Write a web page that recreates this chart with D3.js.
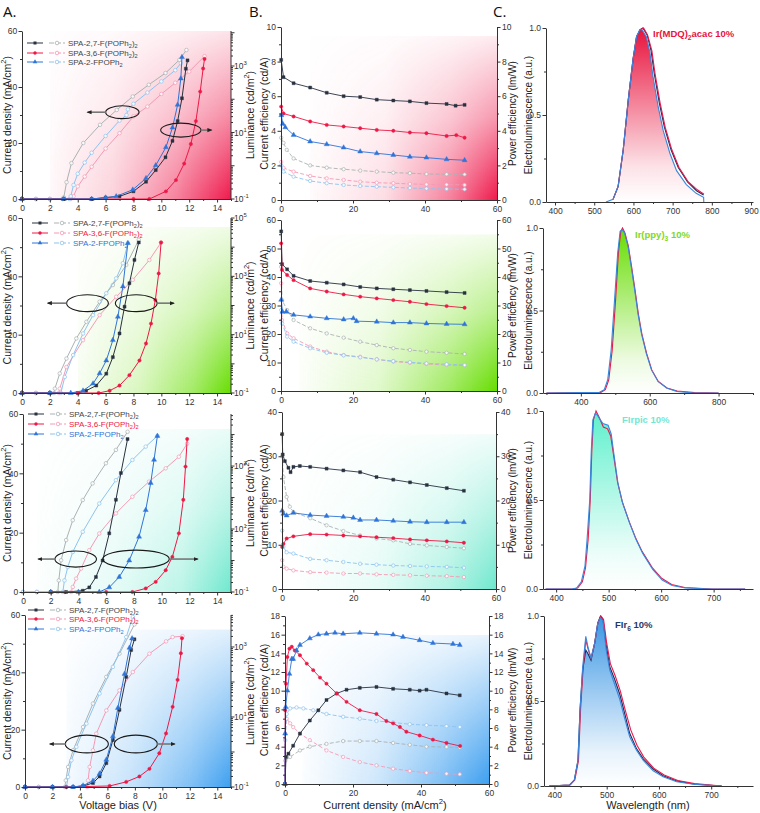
<!DOCTYPE html>
<html><head><meta charset="utf-8">
<script src="https://cdn.jsdelivr.net/npm/d3@7"></script>
<style>body{margin:0;background:#fff}svg{display:block}</style>
</head><body><svg id="c" width="760" height="813"></svg>
<script>
// ---------------- DATA ----------------
// Column A : J-V (left axis, mA/cm2) and L-V (right log axis, cd/m2)
const a1J27=[[0,0],[1,0],[2,0],[2.9,0],[3.0,0.6],[3.2,6],[3.55,12.8],[4.4,20],[5.6,26.5],[6.8,31.8],[7.95,36.6],[9.1,40.8],[10.3,45],[11.3,49.7],[11.8,53.2]];
const a1J36=[[0,0],[1,0],[2,0],[3.5,0],[3.7,1],[4,4.5],[4.5,8],[5,11.5],[6,18],[7,23.5],[8,29.5],[9,33],[10,37.5],[11,41.5],[12,45.5],[13.1,51]];
const a1J2F=[[0,0],[1,0],[2,0],[3.4,0],[3.5,1],[3.7,5],[4,9],[4.5,13],[5,16.5],[6,22.5],[7,28],[7.5,30],[7.6,32],[8,34],[9,38],[10,42],[11,46],[11.4,48.5]];
const a1L27=[[0,0.1],[3,0.1],[5,0.1],[6,0.11],[7,0.12],[8,0.17],[8.9,0.33],[9.6,0.74],[10.3,1.8],[10.8,5.6],[11.17,22],[11.48,107],[11.76,830],[11.88,1480]];
const a1L36=[[0,0.1],[5,0.1],[8,0.1],[9.14,0.1],[10.33,0.17],[11.05,0.37],[11.64,1.16],[12.12,4.5],[12.48,22],[12.79,170],[13.0,840],[13.1,1630]];
const a1L2F=[[0,0.1],[3,0.1],[5,0.1],[6,0.11],[6.76,0.12],[7.95,0.19],[8.9,0.42],[9.6,1.03],[10.33,3.6],[10.8,14],[11.17,68],[11.4,420],[11.48,1850]];

const a2J27=[[0,0],[1,0],[2,0],[2.3,0],[2.36,1.5],[2.71,6.7],[3.19,11.8],[3.9,18.7],[4.62,24.4],[5.57,31.3],[6.52,37],[7.48,43.9],[8.38,52.5]];
const a2J36=[[0,0],[1,0],[2,0],[2.65,0],[2.71,1.5],[3.19,8.9],[4.38,18.1],[5.57,26.7],[6.76,33],[7.95,38.8],[9.14,45.6],[9.98,51.6]];
const a2J2F=[[0,0],[1,0],[2,0],[2.79,0],[3.07,5.5],[3.67,13],[4.38,20.4],[5.1,26.7],[6.05,34.2],[6.76,39.3],[7.24,44.5],[7.6,51.4]];
const a2L27=[[0,0.1],[2,0.1],[4,0.1],[4.6,0.12],[5.33,0.18],[6.05,0.46],[6.52,1.7],[7.0,11],[7.36,91],[7.71,580],[8.07,3650],[8.38,14500]];
const a2L36=[[0,0.1],[2,0.1],[4,0.1],[5.5,0.1],[6.29,0.12],[7.0,0.18],[7.71,0.41],[8.43,1.3],[8.9,5],[9.26,24],[9.57,155],[9.81,1250],[9.98,14500]];
const a2L2F=[[0,0.1],[2,0.1],[3.5,0.1],[4.38,0.12],[5.1,0.21],[5.57,0.47],[6.05,1.3],[6.52,6.5],[6.88,41],[7.24,450],[7.6,13800]];

const a3J27=[[0,0],[1,0],[2,0],[2.51,0],[2.58,3.9],[2.75,10.7],[3.11,17.5],[3.59,24.2],[4.31,31],[5.02,36.6],[5.98,43.4],[6.7,47.9],[7.54,54]];
const a3J36=[[0,0],[1,0],[2,0],[3,0],[3.47,0],[3.59,1.7],[3.83,4.5],[4.19,7.9],[4.78,14.1],[5.5,19.7],[6.7,26.5],[7.89,32.1],[9.09,37.2],[10.29,41.7],[11.24,45.6],[11.84,50]];
const a3J2F=[[0,0],[1,0],[2,0],[2.87,0],[2.99,3.9],[3.23,8.4],[3.59,13.5],[4.31,20.3],[5.5,29.8],[6.7,37.7],[7.89,44.5],[8.85,49],[9.69,52.6]];
const a3L27=[[2,0.1],[3.11,0.1],[4.31,0.11],[4.78,0.14],[5.26,0.3],[5.74,1.0],[6.22,7.3],[6.7,85],[7.06,600],[7.54,7200]];
const a3L36=[[2,0.1],[6,0.1],[7.89,0.1],[8.85,0.13],[9.57,0.21],[10.29,0.49],[10.77,1.3],[11.24,7.3],[11.56,85],[11.72,960],[11.84,7200]];
const a3L2F=[[2,0.1],[4,0.1],[5.5,0.1],[6.22,0.14],[6.94,0.3],[7.66,1.0],[8.37,5.7],[8.85,40],[9.21,290],[9.45,1580],[9.69,9000]];

const a4J27=[[0,0],[1,0],[2,0],[2.9,0],[2.97,2.3],[3.14,7],[3.5,12.8],[4.23,20.9],[4.95,29.1],[5.92,38.4],[6.88,46.5],[7.97,56.7]];
const a4J36=[[0,0],[1,0],[2,0],[3,0],[4.52,0],[4.59,2.3],[4.71,7],[4.95,12.8],[5.19,18.6],[5.92,26.7],[6.88,33.7],[7.85,40.1],[9.06,46.5],[10.27,50.8],[10.75,52.3],[11.47,52.6]];
const a4J2F=[[0,0],[1,0],[2,0],[3.02,0],[3.14,3.5],[3.38,9.3],[3.74,14],[4.47,22.1],[5.43,32.6],[6.4,41.9],[7.37,52.3],[7.85,59.3]];
const a4L27=[[0,0.1],[2,0.1],[3.5,0.1],[4.23,0.107],[4.95,0.13],[5.43,0.2],[5.92,0.48],[6.4,2.2],[6.88,16],[7.37,140],[7.73,820],[7.97,1660]];
const a4L36=[[0,0.1],[3,0.1],[6.16,0.107],[7.37,0.14],[8.33,0.2],[9.06,0.33],[9.78,0.92],[10.27,3.4],[10.75,19.5],[11.11,115],[11.35,660],[11.43,1780]];
const a4L2F=[[0,0.1],[2,0.1],[3.5,0.1],[4.23,0.11],[4.95,0.15],[5.43,0.24],[5.92,0.6],[6.4,2.8],[6.76,18],[7.25,170],[7.61,950],[7.8,1750]];

// Column B : current efficiency (cd/A, left) and power efficiency (lm/W, right) vs current density
const b1CE27=[[0.05,8.1],[0.7,7.1],[3.5,6.75],[8.1,6.5],[12.7,6.2],[17.4,6.0],[22,5.95],[26.6,5.8],[31.2,5.75],[35.8,5.7],[40.4,5.6],[46,5.55],[48.5,5.45],[51,5.5]];
const b1CE36=[[0.05,5.4],[0.7,5.0],[3.5,4.83],[8.1,4.54],[12.7,4.34],[17.4,4.25],[22,4.15],[26.6,4.05],[31.2,4.0],[35.8,3.9],[40.4,3.86],[46,3.7],[48.7,3.75],[51,3.6]];
const b1CE2F=[[0.1,4.9],[0.5,4.4],[1.2,4.2],[3.5,3.76],[8.1,3.38],[12.7,3.22],[17.4,3.03],[22,2.8],[26.6,2.7],[31.2,2.6],[35.8,2.5],[40.4,2.45],[46,2.35],[51,2.3]];
const b1PE27=[[0.05,3.6],[0.7,3.3],[1.6,2.9],[3.5,2.4],[8.1,2.0],[12.7,1.87],[17.4,1.78],[22,1.7],[26.6,1.64],[31.2,1.58],[35.8,1.55],[40.4,1.5],[46,1.49],[51,1.48]];
const b1PE36=[[0.05,2.2],[0.7,1.85],[3.5,1.64],[8.1,1.39],[12.7,1.25],[17.4,1.16],[22,1.06],[26.6,1.0],[31.2,0.97],[35.8,0.93],[40.4,0.9],[46,0.89],[51,0.87]];
const b1PE2F=[[0.05,2.0],[0.7,1.64],[3.5,1.35],[8.1,1.1],[12.7,0.97],[17.4,0.87],[22,0.81],[26.6,0.77],[31.2,0.73],[35.8,0.69],[40.4,0.66],[46,0.64],[51,0.62]];

const b2CE27=[[0.05,56],[0.3,44.5],[1.7,42.7],[3.5,40.4],[8.1,38.6],[12.7,38],[17.4,37.4],[22,36.5],[26.6,36],[31.2,35.7],[35.8,35.4],[40.4,35.1],[46,34.7],[51,34.4]];
const b2CE36=[[0.05,51.8],[0.3,42.5],[1.7,40.7],[3.5,38.9],[8.1,36.0],[12.7,34.9],[17.4,33.9],[22,33.1],[26.6,32.5],[31.2,31.9],[35.8,31.3],[40.4,30.5],[46,29.8],[51,29.2]];
const b2CE2F=[[0.05,32],[0.4,27.8],[1.5,27.8],[3.5,26.7],[8.1,26.1],[12.7,25.5],[17.4,25.1],[20.1,25.5],[21,24.5],[26.6,24.3],[31.2,24.0],[35.8,24.0],[40.4,23.7],[46,23.5],[51,23.4]];
const b2PE27=[[0.05,43.6],[0.3,31.9],[1.7,28.4],[3.5,24.9],[8.1,22],[12.7,20.2],[17.4,18.7],[22,17.3],[26.6,16.1],[31.2,15.0],[35.8,14.4],[40.4,13.8],[46,13.4],[51,13.0]];
const b2PE36=[[0.05,37.8],[0.3,24.9],[1.7,20.2],[3.5,18.5],[8.1,15.6],[12.7,13.8],[17.4,12.6],[22,12.0],[26.6,11.1],[31.2,10.3],[35.8,9.9],[40.4,9.5],[46,9.1],[51,9.0]];
const b2PE2F=[[0.05,28.4],[0.3,23.7],[1.7,19.1],[3.5,17.3],[8.1,15.0],[12.7,13.4],[17.4,12.5],[22,11.8],[26.6,11.1],[31.2,10.5],[35.8,10.1],[40.4,9.7],[46,9.4],[51,9.1]];

const b3CE27=[[0.05,35],[0.2,30.4],[0.8,28.9],[1.8,27.4],[2.4,26.4],[3.2,27.6],[5,27.8],[7.9,27.6],[12.5,27.2],[17.2,26.8],[21.9,26.4],[26.5,25.3],[31.2,24.7],[35.9,24.1],[40.6,23.5],[46.2,22.8],[51,22.2]];
const b3CE36=[[0.05,9.5],[0.4,10.2],[1.3,11.4],[3.2,11.9],[7.9,12.4],[12.5,12.3],[17.2,12.1],[21.9,11.9],[26.5,11.7],[31.2,11.5],[35.9,11.2],[40.6,11.0],[46.2,10.75],[51,10.45]];
const b3CE2F=[[0.05,17.7],[0.4,17],[1.3,16.6],[3.2,17.2],[7.9,16.7],[12.5,16.5],[17.2,16.3],[20,16.1],[21.9,15.6],[26.5,15.6],[31.2,15.4],[35.9,15.2],[40.6,15.1],[46.2,15.1],[51,15.1]];
const b3PE27=[[0.05,30],[0.4,25.3],[1.3,20.8],[2.2,18.6],[3.2,17.4],[7.9,16],[12.5,14.4],[17.2,13.1],[21.9,12.1],[26.5,11.4],[31.2,11.0],[35.9,10.2],[40.6,9.85],[46.2,9.5],[51,9.2]];
const b3PE36=[[0.05,6.5],[0.4,5.0],[1.3,4.6],[3.2,4.2],[7.9,3.8],[12.5,3.7],[17.2,3.5],[21.9,3.5],[26.5,3.3],[31.2,3.2],[35.9,3.1],[40.6,3.0],[46.2,2.9],[51,2.7]];
const b3PE2F=[[0.05,13.2],[0.4,9.5],[1.3,8.3],[3.2,8.0],[7.9,6.8],[12.5,6.5],[17.2,6.1],[21.9,5.7],[26.5,5.5],[31.2,5.3],[35.9,5.2],[40.6,5.1],[46.2,5.0],[51,4.8]];

const b4CE27=[[0,0],[0.3,2.9],[1,3.25],[2.4,4.1],[4.4,5.4],[7.3,6.8],[9.8,7.9],[12.2,9.0],[15.2,9.7],[18.1,10.1],[22,10.3],[26.9,10.4],[31.8,10.2],[36.7,10.1],[39.6,10.0],[41.6,10.1],[47.5,9.7],[51.4,9.5]];
const b4CE36=[[0,0],[0.05,7.9],[0.3,10.75],[0.7,13.6],[1.3,14.5],[2,14.7],[2.9,14.3],[4.4,13.8],[6.4,12.9],[8.3,12.2],[10.3,11.4],[12.2,10.75],[15.2,9.7],[18.1,8.8],[22,7.9],[26.9,7.5],[29.8,6.75],[31.8,6.5],[33.8,6.1],[35.7,5.6],[39.6,5.2],[43.5,4.75],[47.5,4.4],[51.5,4.07]];
const b4CE2F=[[0,0],[0.05,5.4],[0.2,8.25],[0.7,10.0],[1.3,11.8],[2,13.4],[2.4,13.4],[3.4,14.3],[4.4,14.9],[7.3,15.6],[9.8,16.0],[12.2,16.1],[14.7,16.2],[17.1,16.1],[22,16.2],[26.9,16.1],[31.8,16.0],[34.7,15.75],[39.6,15.4],[43.5,15.1],[49.4,15.0],[51.4,14.9]];
const b4PE27=[[0,0],[0.1,2.5],[1.5,2.9],[4.4,3.6],[7.3,4.0],[12.2,4.3],[17.1,4.6],[22,4.6],[26.9,4.6],[31.8,4.4],[36.7,4.2],[41.6,4.0],[47.5,3.96],[51.4,3.9]];
const b4PE36=[[0,0],[0.05,5.4],[0.5,7.0],[1.5,6.5],[2.4,6.1],[4.4,5.4],[7.3,4.7],[12.2,3.6],[17.1,2.9],[22,2.35],[26.9,2.0],[31.8,1.64],[36.7,1.4],[41.6,1.2],[47.5,1.1],[51.4,1.04]];
const b4PE2F=[[0,0],[0.05,4.7],[0.5,7.5],[1.5,8.1],[3.4,8.2],[5.4,8.1],[8.3,7.9],[12.2,7.5],[17.1,7.2],[22,7.0],[26.9,6.75],[31.8,6.6],[36.7,6.4],[41.6,6.3],[47.5,6.2],[51.4,6.1]];

// Column C : normalised EL spectra [wavelength nm, intensity]
const c1Blue=[[530,0],[548,0.015],[561,0.09],[574,0.30],[587,0.59],[599,0.82],[608,0.95],[616,0.99],[622,0.99],[633,0.95],[642,0.86],[650,0.72],[663,0.55],[676,0.41],[693,0.28],[710,0.18],[735,0.10],[760,0.05],[779,0.027],[779.5,0]];
const c1Dark=[[548,0.015],[561,0.09],[574,0.30],[587,0.59],[599,0.82],[608,0.95],[617,0.99],[624,1.0],[635,0.96],[645,0.87],[653,0.74],[666,0.57],[679,0.43],[696,0.30],[714,0.2],[738,0.115],[761,0.065],[779,0.04]];
const c1Red=[[548,0.015],[561,0.09],[574,0.30],[587,0.59],[599,0.82],[608,0.95],[618,0.99],[626,1.0],[636,0.96],[647,0.87],[655,0.74],[668,0.57],[681,0.43],[698,0.30],[716,0.2],[740,0.115],[763,0.07],[780,0.045]];

const c2Blue=[[300,0],[454,0.004],[468,0.02],[478,0.08],[488,0.26],[498,0.57],[507,0.85],[514,0.98],[520,0.99],[527,0.97],[537,0.89],[546,0.77],[556,0.63],[566,0.48],[576,0.36],[590,0.24],[605,0.14],[624,0.07],[649,0.03],[678,0.01],[727,0],[800,0]];
const c2Red=[[300,0],[458,0.004],[471,0.02],[481,0.08],[491,0.26],[501,0.57],[509,0.85],[516,0.98],[521,1.0],[528,0.97],[538,0.89],[547,0.77],[557,0.63],[567,0.48],[577,0.36],[591,0.24],[606,0.14],[625,0.07],[650,0.03],[680,0.012],[730,0.002],[800,0]];

const c3Blue=[[380,0],[430,0],[439,0.005],[448,0.04],[455,0.13],[459,0.28],[464,0.5],[467,0.78],[470,0.95],[475,0.99],[480,0.97],[489,0.93],[499,0.92],[505,0.87],[510,0.76],[518,0.59],[527,0.48],[540,0.37],[552,0.28],[565,0.2],[584,0.11],[602,0.05],[621,0.02],[646,0.006],[697,0],[760,0]];
const c3Red=[[380,0],[432,0],[441,0.005],[450,0.04],[456,0.12],[461,0.28],[465,0.5],[468,0.78],[471,0.95],[476,1.0],[481,0.97],[490,0.91],[498,0.9],[504,0.86],[509,0.76],[517,0.6],[526,0.49],[539,0.38],[551,0.29],[564,0.21],[583,0.12],[601,0.06],[620,0.025],[645,0.008],[697,0],[760,0]];

const c4Blue=[[390,0],[429,0.006],[438,0.035],[445,0.15],[449,0.45],[454,0.7],[460,0.88],[464,0.82],[470,0.75],[477,0.84],[483,0.96],[488,0.99],[493,0.97],[499,0.8],[506,0.68],[515,0.6],[525,0.51],[535,0.39],[544,0.29],[557,0.21],[570,0.15],[589,0.09],[608,0.055],[634,0.025],[666,0.01],[704,0.002],[720,0]];
const c4Dark=[[390,0],[429,0.006],[438,0.035],[445,0.15],[449,0.45],[454,0.68],[460,0.8],[464,0.78],[470,0.74],[477,0.84],[483,0.96],[488,1.0],[493,0.98],[499,0.83],[506,0.7],[515,0.63],[525,0.54],[535,0.42],[544,0.31],[557,0.22],[570,0.16],[589,0.1],[608,0.06],[634,0.03],[666,0.012],[704,0.003],[720,0]];
const c4Red=[[390,0],[430,0.006],[439,0.035],[446,0.15],[450,0.45],[455,0.7],[460,0.86],[464,0.81],[470,0.75],[477,0.84],[483,0.96],[489,1.0],[494,0.98],[500,0.84],[507,0.72],[516,0.65],[526,0.56],[536,0.44],[546,0.33],[558,0.24],[571,0.17],[590,0.105],[610,0.065],[636,0.032],[668,0.014],[704,0.004],[720,0]];

// Text
const seriesNames=[[["SPA-2,7-F(POPh",0],["2",1],[")",0],["2",1]],[["SPA-3,6-F(POPh",0],["2",1],[")",0],["2",1]],[["SPA-2-FPOPh",0],["2",1]]];
const emitterNames=[[["Ir(MDQ)",0],["2",1],["acac 10%",0]],[["Ir(ppy)",0],["3",1],[" 10%",0]],[["FIrpic 10%",0]],[["FIr",0],["6",1],[" 10%",0]]];
const panelLetters=["A.","B.","C."];

// ---------------- DRAWING ----------------
const FONT="'Liberation Sans', Arial, Helvetica, sans-serif";
const COL={dark:"#28313f",gray:"#aab2b2",red:"#ee1846",pink:"#f49ab4",blue:"#2f74d8",lblue:"#8ec3ee"};
const svg=d3.select("#c");
const defs=svg.append("defs");
let gid=0;

function rich(t,parts,fs){let sh=0;parts.forEach(([s,k])=>{const tg=k===1?fs*0.3:k===2?-fs*0.45:0;t.append("tspan").attr("dy",tg-sh).attr("font-size",k?fs*0.7:fs).text(s);sh=tg;});}

function bgRect(g,color,x0,x1,y0,y1,hStops,vStops){
  const id="g"+(gid++);
  const h=defs.append("linearGradient").attr("id",id+"h").attr("x1",0).attr("y1",0).attr("x2",1).attr("y2",0);
  hStops.forEach(([o,a])=>h.append("stop").attr("offset",o).attr("stop-color",color).attr("stop-opacity",a));
  const v=defs.append("linearGradient").attr("id",id+"v").attr("x1",0).attr("y1",0).attr("x2",0).attr("y2",1);
  vStops.forEach(([o,a])=>v.append("stop").attr("offset",o).attr("stop-color","#fff").attr("stop-opacity",a));
  const m=defs.append("mask").attr("id",id+"m").attr("maskUnits","userSpaceOnUse").attr("x",x0).attr("y",y0).attr("width",x1-x0).attr("height",y1-y0);
  m.append("rect").attr("x",x0).attr("y",y0).attr("width",x1-x0).attr("height",y1-y0).attr("fill",`url(#${id}v)`);
  g.append("rect").attr("x",x0).attr("y",y0).attr("width",x1-x0).attr("height",y1-y0).attr("fill",`url(#${id}h)`).attr("mask",`url(#${id}m)`);
}

function series(g,data,xs,ys,o){
  const line=d3.line().x(d=>xs(d[0])).y(d=>ys(d[1]));
  g.append("path").attr("d",line(data)).attr("fill","none").attr("stroke",o.color).attr("stroke-width",o.sw||1).attr("stroke-dasharray",o.dash||null);
  if(o.sym){
    g.selectAll(null).data(data).enter().append("path")
      .attr("d",d3.symbol().type(o.sym).size(o.size||9))
      .attr("transform",d=>`translate(${xs(d[0])},${ys(d[1])})`)
      .attr("fill",o.open?"#fff":o.color).attr("fill-opacity",o.open?0.85:1)
      .attr("stroke",o.color).attr("stroke-width",o.open?0.7:0.4);
  }
}

function linAxis(g,scale,orient,pos,major,minor,fmt,fs,pad){
  const dom=scale.domain();
  const lo=Math.min(dom[0],dom[1]),hi=Math.max(dom[0],dom[1]);
  const majV=d3.range(Math.ceil(lo/major-1e-9)*major,hi+1e-9,major);
  const mk=orient==="bottom"?d3.axisBottom:orient==="left"?d3.axisLeft:d3.axisRight;
  const ax=mk(scale).tickValues(majV).tickSize(3.5).tickSizeOuter(0).tickPadding(pad==null?2:pad).tickFormat(fmt);
  const tr=orient==="bottom"?`translate(0,${pos})`:`translate(${pos},0)`;
  const gg=g.append("g").attr("transform",tr).call(ax);
  gg.select(".domain").attr("stroke","#333");
  gg.selectAll(".tick line").attr("stroke","#333");
  gg.selectAll(".tick text").attr("fill","#333").attr("font-size",fs||9).attr("font-family",FONT);
  if(minor){
    const minV=d3.range(Math.ceil(lo/minor-1e-9)*minor,hi+1e-9,minor).filter(v=>Math.abs(v/major-Math.round(v/major))>1e-6);
    const ax2=mk(scale).tickValues(minV).tickSize(2).tickSizeOuter(0).tickFormat("");
    const g2=g.append("g").attr("transform",tr).call(ax2);
    g2.select(".domain").remove();g2.selectAll(".tick line").attr("stroke","#333");
  }
  return gg;
}

// rotated axis title; bx = x of the text baseline
function rotTitle(g,bx,y,parts,fs){
  const t=g.append("text").attr("transform",`translate(${bx},${y}) rotate(-90)`).attr("text-anchor","middle").attr("font-family",FONT).attr("font-size",fs).attr("fill","#222");
  rich(t,parts,fs);
}

function ellipseAnn(g,xs,ys,cx,cy,rx,ry,a0,a1){
  g.append("ellipse").attr("cx",xs(cx)).attr("cy",ys(cy)).attr("rx",Math.abs(xs(cx+rx)-xs(cx))).attr("ry",Math.abs(ys(cy+ry)-ys(cy))).attr("fill","none").attr("stroke","#1a1a1a").attr("stroke-width",1.1);
  g.append("line").attr("x1",xs(a0)).attr("y1",ys(cy)).attr("x2",xs(a1)).attr("y2",ys(cy)).attr("stroke","#777").attr("stroke-width",1.6).attr("marker-end","url(#arr)");
}
defs.append("marker").attr("id","arr").attr("viewBox","0 0 10 10").attr("refX",8).attr("refY",5).attr("markerWidth",3.2).attr("markerHeight",3.2).attr("orient","auto")
  .append("path").attr("d","M0,1L10,5L0,9Z").attr("fill","#222");

const SQ=d3.symbolSquare,CI=d3.symbolCircle,TR=d3.symbolTriangle;

// ---- Column A
const rowsA=[
 {x0:22,x1:231,yT:31,yB:199,lmax:11300,col:"#ee1a4c",bg:[2,15,0,60],J:[a1J27,a1J36,a1J2F],L:[a1L27,a1L36,a1L2F],leg:{x:27,y:[43,53,62],tc:["#444","#444","#444"]},
  ell:[[7.2,31,1.2,2.3,6.05,4.7],[11.4,24.6,1.45,2.5,12.85,13.6]],h:[[0,0.03],[0.35,0.2],[0.7,0.55],[1,1]],v:[[0,0.12],[0.5,0.5],[1,1]]},
 {x0:22,x1:231,yT:218,yB:393,lmax:1e5,col:"#66dd00",bg:[4,15,0,57],J:[a2J27,a2J36,a2J2F],L:[a2L27,a2L36,a2L2F],leg:{x:32,y:[223,233,243],tc:["#444",COL.red,COL.blue]},
  ell:[[4.7,30.8,1.5,2.9,3.2,1.85],[8.2,30.8,1.5,2.9,9.7,10.9]],h:[[0,0.05],[0.4,0.25],[0.75,0.6],[1,1]],v:[[0,0.1],[0.5,0.45],[1,1]]},
 {x0:23,x1:231,yT:414,yB:592,lmax:45000,col:"#55e4c4",bg:[1,15,0,55],J:[a3J27,a3J36,a3J2F],L:[a3L27,a3L36,a3L2F],leg:{x:28,y:[414,424,434],tc:["#444",COL.red,COL.blue]},
  ell:[[3.8,11.1,1.5,2.7,2.3,1.1],[8.15,11.1,2.4,3.0,10.6,12.6]],h:[[0,0.02],[0.4,0.15],[0.75,0.4],[1,0.85]],v:[[0,0.15],[0.5,0.5],[1,1]]},
 {x0:25,x1:231,yT:615,yB:787,lmax:8200,col:"#3d9ff0",bg:[3,15,0,55],J:[a4J27,a4J36,a4J2F],L:[a4L27,a4L36,a4L2F],leg:{x:28,y:[610,619,629],tc:["#444",COL.red,COL.blue]},
  ell:[[4.5,15,1.57,3.1,3.0,1.8],[8.07,15,1.57,3.1,9.6,10.9]],h:[[0,0.05],[0.4,0.3],[0.75,0.65],[1,1]],v:[[0,0.15],[0.5,0.55],[1,1]]}
];
rowsA.forEach((r,i)=>{
  const g=svg.append("g");
  const xs=d3.scaleLinear().domain([0,15]).range([r.x0,r.x1]);
  const ys=d3.scaleLinear().domain([0,60]).range([r.yB,r.yT]);
  const yl=d3.scaleLog().domain([0.1,r.lmax]).range([r.yB,r.yT]).clamp(true);
  bgRect(g,r.col,xs(r.bg[0]),xs(r.bg[1]),ys(r.bg[3]),ys(r.bg[2]),r.h,r.v);
  const jc=[COL.gray,COL.pink,COL.lblue],lc=[COL.dark,COL.red,COL.blue],ls=[SQ,CI,TR];
  r.J.forEach((d,k)=>series(g,d,xs,ys,{color:jc[k],sym:CI,open:true,size:10,sw:1}));
  r.L.forEach((d,k)=>series(g,d,xs,yl,{color:lc[k],sym:ls[k],size:k===2?11:9,sw:1}));
  r.ell.forEach(e=>ellipseAnn(g,xs,ys,...e));
  linAxis(g,xs,"bottom",r.yB,2,1,d=>d,8.5);
  linAxis(g,ys,"left",r.x0,20,10,d=>d,8.5,1.2);
  // log right axis
  g.append("line").attr("x1",r.x1).attr("x2",r.x1).attr("y1",r.yB).attr("y2",r.yT).attr("stroke","#333");
  yl.ticks().forEach(v=>{
    const e=Math.log10(v),isMaj=Math.abs(e-Math.round(e))<1e-9;
    g.append("line").attr("x1",r.x1).attr("x2",r.x1+(isMaj?3.5:2)).attr("y1",yl(v)).attr("y2",yl(v)).attr("stroke","#333");
    if(isMaj&&Math.round(e)%2!==0){
      const t=g.append("text").attr("x",r.x1+3).attr("y",yl(v)+3).attr("font-family",FONT).attr("font-size",8.5).attr("fill","#333");
      rich(t,[["10",0],[String(Math.round(e)),2]],8.5);
    }
  });
  rotTitle(g,10.5,(r.yT+r.yB)/2,[["Current density (mA/cm",0],["2",2],[")",0]],10.5);
  rotTitle(g,254,(r.yT+r.yB)/2,[["Luminance (cd/m",0],["2",2],[")",0]],10.5);
  r.leg.y.forEach((ly,k)=>{
    const lx=r.leg.x;
    g.append("line").attr("x1",lx).attr("x2",lx+16).attr("y1",ly).attr("y2",ly).attr("stroke",lc[k]).attr("stroke-width",1);
    g.append("path").attr("d",d3.symbol().type(ls[k]).size(9)).attr("transform",`translate(${lx+8},${ly})`).attr("fill",lc[k]);
    g.append("line").attr("x1",lx+22).attr("x2",lx+38).attr("y1",ly).attr("y2",ly).attr("stroke",jc[k]).attr("stroke-width",1).attr("stroke-dasharray","5,2");
    g.append("circle").attr("cx",lx+30).attr("cy",ly).attr("r",1.8).attr("fill","#fff").attr("stroke",jc[k]).attr("stroke-width",0.8);
    const t=g.append("text").attr("x",lx+41).attr("y",ly+3).attr("font-family",FONT).attr("font-size",8).attr("fill",r.leg.tc[k]);
    rich(t,seriesNames[k],8);
  });
});
svg.append("text").attr("x",118).attr("y",809).attr("text-anchor","middle").attr("font-family",FONT).attr("font-size",11).attr("fill","#222").text("Voltage bias (V)");

// ---- Column B
const rowsB=[
 {x0:281,x1:497,yT:27,yB:200,ymax:10,maj:2,min:1,col:"#ee1a4c",bg:[8,60,0,9.5],CE:[b1CE27,b1CE36,b1CE2F],PE:[b1PE27,b1PE36,b1PE2F],h:[[0,0.02],[0.4,0.15],[0.75,0.55],[1,1]],v:[[0,0.08],[0.5,0.45],[1,1]]},
 {x0:281,x1:497,yT:220,yB:391,ymax:60,maj:10,min:5,col:"#66dd00",bg:[5,60,0,55],CE:[b2CE27,b2CE36,b2CE2F],PE:[b2PE27,b2PE36,b2PE2F],h:[[0,0.02],[0.4,0.2],[0.75,0.6],[1,1]],v:[[0,0.08],[0.5,0.45],[1,1]]},
 {x0:282,x1:496,yT:412,yB:589,ymax:40,maj:10,min:5,col:"#55e4c4",bg:[5,60,0,35],CE:[b3CE27,b3CE36,b3CE2F],PE:[b3PE27,b3PE36,b3PE2F],h:[[0,0.02],[0.4,0.15],[0.75,0.45],[1,0.85]],v:[[0,0.1],[0.5,0.5],[1,1]]},
 {x0:285,x1:489,yT:616,yB:784,ymax:18,maj:2,min:1,col:"#3d9ff0",bg:[5,60,0,16],CE:[b4CE27,b4CE36,b4CE2F],PE:[b4PE27,b4PE36,b4PE2F],h:[[0,0.02],[0.4,0.25],[0.75,0.65],[1,1]],v:[[0,0.12],[0.5,0.55],[1,1]]}
];
rowsB.forEach((r,i)=>{
  const g=svg.append("g");
  const xs=d3.scaleLinear().domain([0,60]).range([r.x0,r.x1]);
  const ys=d3.scaleLinear().domain([0,r.ymax]).range([r.yB,r.yT]);
  bgRect(g,r.col,xs(r.bg[0]),xs(r.bg[1]),ys(r.bg[3]),ys(r.bg[2]),r.h,r.v);
  const pc=[COL.gray,COL.pink,COL.lblue],cc=[COL.dark,COL.red,COL.blue],cs=[SQ,CI,TR];
  r.PE.forEach((d,k)=>series(g,d,xs,ys,{color:pc[k],sym:CI,open:true,size:9,sw:0.9,dash:"4,2"}));
  r.CE.forEach((d,k)=>series(g,d,xs,ys,{color:cc[k],sym:cs[k],size:k===2?11:9,sw:0.9}));
  linAxis(g,xs,"bottom",r.yB,20,10,d=>d,8.5);
  linAxis(g,ys,"left",r.x0,r.maj,r.min,d=>d,8.5,1.5);
  linAxis(g,ys,"right",r.x1,r.maj,r.min,d=>d,8.5,1.5);
  rotTitle(g,267.5,(r.yT+r.yB)/2,[["Current efficiency (cd/A)",0]],10.5);
  rotTitle(g,515.5,(r.yT+r.yB)/2,[["Power efficiency (lm/W)",0]],10);
});
{const t=svg.append("text").attr("x",385).attr("y",809).attr("text-anchor","middle").attr("font-family",FONT).attr("font-size",11).attr("fill","#222");rich(t,[["Current density (mA/cm",0],["2",2],[")",0]],11);}

// ---- Column C
const rowsC=[
 {x0:546,x1:753,yT:28,yB:202,dom:[377,905],maj:100,min:50,curves:[c1Blue,c1Dark,c1Red],fill:0,col:"#e8123c",lab:{x:653,y:37,c:"#e8123c"}},
 {x0:543,x1:753,yT:228,yB:393,dom:[290,900],maj:200,min:100,curves:[c2Blue,null,c2Red],fill:0,col:"#66dd00",lab:{x:635,y:238,c:"#7fd81e"}},
 {x0:543,x1:753,yT:411,yB:589,dom:[375,775],maj:100,min:50,curves:[c3Blue,null,c3Red],fill:0,col:"#5ef0cc",lab:{x:622,y:423,c:"#6fe8d4"}},
 {x0:544,x1:753,yT:616,yB:786,dom:[380,780],maj:100,min:50,curves:[c4Blue,c4Dark,c4Red],fill:1,col:"#3a96e4",lab:{x:615,y:628,c:"#1f3a6a"}}
];
rowsC.forEach((r,i)=>{
  const g=svg.append("g");
  const xs=d3.scaleLinear().domain(r.dom).range([r.x0,r.x1]);
  const ys=d3.scaleLinear().domain([0,1]).range([r.yB,r.yT]);
  const id="sp"+i;
  const lg=defs.append("linearGradient").attr("id",id).attr("gradientUnits","userSpaceOnUse").attr("x1",0).attr("y1",r.yT).attr("x2",0).attr("y2",r.yB);
  [[0,1],[0.45,0.5],[0.8,0.12],[1,0]].forEach(([o,a])=>lg.append("stop").attr("offset",o).attr("stop-color",r.col).attr("stop-opacity",a));
  const area=d3.area().x(d=>xs(d[0])).y0(r.yB).y1(d=>ys(d[1]));
  g.append("path").attr("d",area(r.curves[r.fill])).attr("fill",`url(#${id})`);
  const cols=["#3a86dc","#1c2a5a","#e8194a"];
  [1,2,0].forEach(k=>{ if(r.curves[k]) series(g,r.curves[k],xs,ys,{color:cols[k],sw:1.1}); });
  linAxis(g,xs,"bottom",r.yB,r.maj,r.min,d=>d,8.5);
  linAxis(g,ys,"left",r.x0,0.5,0.25,d3.format(".1f"),8.5,1.5);
  rotTitle(g,531.5,(r.yT+r.yB)/2,[["Electroluminescence (a.u.)",0]],10);
  const t=g.append("text").attr("x",r.lab.x).attr("y",r.lab.y).attr("font-family",FONT).attr("font-weight","bold").attr("font-size",9.5).attr("fill",r.lab.c);
  rich(t,emitterNames[i],9.5);
});
svg.append("text").attr("x",648).attr("y",809).attr("text-anchor","middle").attr("font-family",FONT).attr("font-size",11).attr("fill","#222").text("Wavelength (nm)");

[[3,panelLetters[0]],[249,panelLetters[1]],[493,panelLetters[2]]].forEach(([x,s])=>svg.append("text").attr("x",x).attr("y",17).attr("font-family","'Open Sans', 'DejaVu Sans', sans-serif").attr("font-size",15).attr("fill","#111").text(s));
</script></body></html>
